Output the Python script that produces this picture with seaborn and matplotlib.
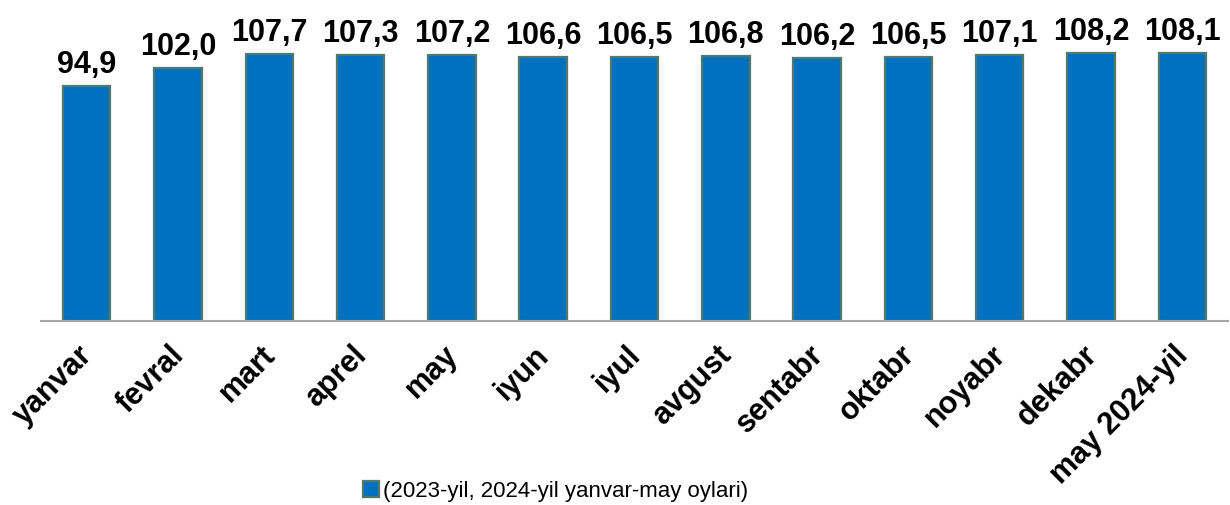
import matplotlib
matplotlib.use('Agg')
import matplotlib.pyplot as plt
import matplotlib.transforms as mtransforms
import pandas as pd
import seaborn as sns

months = ['yanvar', 'fevral', 'mart', 'aprel', 'may', 'iyun', 'iyul', 'avgust',
          'sentabr', 'oktabr', 'noyabr', 'dekabr', 'may 2024-yil']
values = [94.9, 102.0, 107.7, 107.3, 107.2, 106.6, 106.5, 106.8, 106.2, 106.5,
          107.1, 108.2, 108.1]
series_name = '(2023-yil, 2024-yil yanvar-may oylari)'

sns.set_style('white')
plt.rcParams['font.family'] = ['Liberation Sans', 'DejaVu Sans']
plt.rcParams['text.color'] = 'black'
plt.rcParams['xtick.color'] = 'black'

df = pd.DataFrame({'Oy': months, 'Qiymat': values, 'Seriya': series_name})

fig = plt.figure(figsize=(12.3, 5.06), dpi=100)
ax = fig.add_axes([41 / 1230, 1 - 322 / 506, 1187 / 1230, 322 / 506])

sns.barplot(data=df, x='Oy', y='Qiymat', hue='Seriya', palette=['#0070C0'],
            width=0.52, edgecolor='#4F7A6B', linewidth=1.6, saturation=1,
            ax=ax, legend=True)

ax.bar_label(ax.containers[0],
             labels=[f'{v:.1f}'.replace('.', ',') for v in values],
             padding=5, fontsize=22, fontweight='bold', color='black')

ax.set_xlim(-0.5, len(months) - 0.5)
ax.set_ylim(0, 322 / 2.48)
ax.set_xlabel('')
ax.set_ylabel('')
ax.set_yticks([])
sns.despine(ax=ax, left=True)
ax.spines['bottom'].set_color('#A6A6A6')
ax.spines['bottom'].set_linewidth(1.5)
ax.tick_params(axis='x', length=0, pad=13, labelcolor='black')
shift = mtransforms.ScaledTranslation(-9 / 100, 0, fig.dpi_scale_trans)
for lab in ax.get_xticklabels():
    lab.set_rotation(45)
    lab.set_ha('right')
    lab.set_va('top')
    lab.set_rotation_mode('anchor')
    lab.set_fontsize(22)
    lab.set_fontweight('bold')
    lab.set_transform(lab.get_transform() + shift)

ax.get_legend().remove()
handles, labels = ax.get_legend_handles_labels()
fig.legend(handles, labels, loc='center', bbox_to_anchor=(556 / 1230, 1 - 492 / 506),
           frameon=False, fontsize=16, handlelength=0.7, handleheight=0.7,
           handletextpad=0.2, labelcolor='black')

fig.savefig('out.png', dpi=100)
